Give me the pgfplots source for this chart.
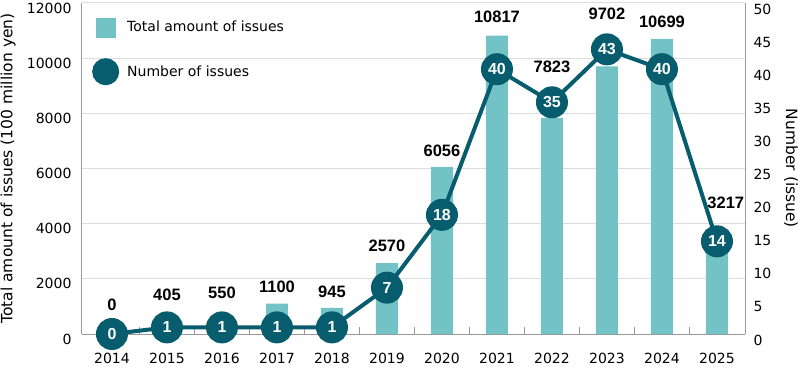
\documentclass[border=0pt]{standalone}
\usepackage{fontspec}
\setmainfont{DejaVu Sans}
\newfontfamily\lib{Liberation Sans}
\usepackage{pgfplots}
\usepackage{pgfplotstable}
\pgfplotsset{compat=1.18}
\definecolor{barc}{HTML}{73C2C6}
\definecolor{linec}{HTML}{075C6E}
\definecolor{axc}{HTML}{999999}
\definecolor{gridc}{HTML}{DDDDDD}
\pgfplotstableread{
x amt
0 0
1 405
2 550
3 1100
4 945
5 2570
6 6056
7 10817
8 7823
9 9702
10 10699
11 3217
}\amt
\pgfplotstableread{
x y lab
0 1055 0
1 1418 405
2 1491 550
3 1709 1100
4 1527 945
5 3200 2570
6 6655 6056
7 11491 10817
8 9673 7823
9 11618 9702
10 11327 10699
11.16 4764 3217
}\lab
\pgfplotstableread{
x n
0 0
1 1
2 1
3 1
4 1
5 7
6 18
7 40
8 35
9 43
10 40
11 14
}\num
\newcommand{\tf}{\fontsize{14}{16}\selectfont}
\begin{document}
\begin{tikzpicture}
\path[use as bounding box] (-82pt,-36pt) rectangle (718pt,334pt);
\pgfplotsset{common/.style={scale only axis, width=663pt, height=331pt,
  xmin=-0.545, xmax=11.51, clip=false,
  axis line style={axc, line width=1pt},
  /pgf/number format/assume math mode=true,
  major tick length=0pt}}
\begin{axis}[common,
  ymin=0, ymax=12000,
  axis x line*=bottom, axis y line*=left,
  ytick={0,2000,...,12000}, ymajorgrids, grid style={gridc, line width=1pt},
  scaled y ticks=false,
  yticklabel style={font=\tf, /pgf/number format/1000 sep={}, xshift=-7pt, yshift=-5pt},
  xtick={0,...,11}, xticklabels={2014,2015,2016,2017,2018,2019,2020,2021,2022,2023,2024,2025},
  xticklabel style={font=\tf, yshift=-16pt},
  minor xtick={0.5,1.5,...,10.5}, minor tick length=7pt, tick align=inside,
  minor tick style={axc, line width=1pt},
  ylabel={Total amount of issues (100 million yen)},
  every axis y label/.style={at={(axis description cs:0,0.5)}, xshift=-74pt, rotate=90, anchor=center, font=\fontsize{15.5}{17}\selectfont},
]
\addplot[ybar, bar width=22pt, bar shift=0pt, fill=barc, draw=none] table[x=x,y=amt]{\amt};
\addplot[draw=none, mark=*, mark size=0pt, nodes near coords, point meta=explicit symbolic,
  nodes near coords style={font=\lib\bfseries\fontsize{16.5}{18}\selectfont, anchor=center, text=black, inner sep=0pt}]
  table[x=x,y=y,meta=lab]{\lab};
\end{axis}
\begin{axis}[common,
  ymin=0, ymax=50,
  axis y line*=right, axis x line=none,
  ytick={0,5,...,50},
  yticklabel style={font=\tf, xshift=5pt, yshift=-6pt},
  ylabel={Number (issue)},
  every axis y label/.style={at={(axis description cs:1,0.5)}, xshift=46pt, rotate=-90, anchor=center, font=\fontsize{15.5}{17}\selectfont},
  legend style={draw=none, fill=none, at={(axis description cs:0,1)}, anchor=north west, xshift=7pt, yshift=-10pt, row sep=19pt, font=\tf},
  legend cell align=left,
]
\addlegendimage{legend image code/.code={\path[draw=none,fill=none] (-2pt,-12pt) rectangle (29pt,12pt); \fill[barc] (0pt,-9.5pt) rectangle (19pt,9.5pt);}}
\addlegendentry{Total amount of issues}
\addplot[linec, line width=4pt, mark=*, mark size=14pt, mark options={fill=linec, draw=none},
  legend image code/.code={\path[draw=none,fill=none] (-2pt,-12pt) rectangle (29pt,12pt); \fill[linec] (9.5pt,0pt) circle (11.5pt);},
  nodes near coords, point meta=explicit symbolic,
  nodes near coords style={anchor=center, text=white, font=\lib\bfseries\fontsize{16}{18}\selectfont, inner sep=0pt}]
  table[x=x,y=n,meta=n]{\num};
\addlegendentry{Number of issues}
\end{axis}
\end{tikzpicture}
\end{document}
